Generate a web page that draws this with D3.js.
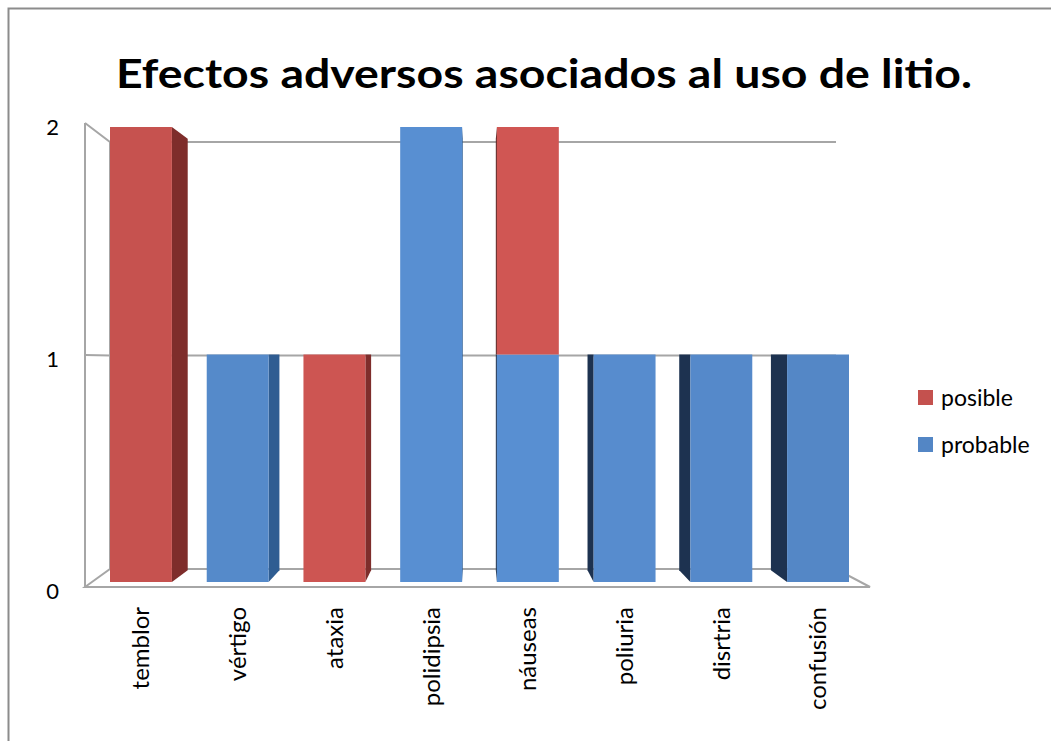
<!DOCTYPE html>
<html>
<head>
<meta charset="utf-8">
<script src="https://cdn.jsdelivr.net/npm/d3@7"></script>
<style>
	body { margin: 0; background: #fff; }
	text { font-family: Lato, "Open Sans", sans-serif; fill: #000; }
</style>
</head>
<body>
<svg id="chart" width="1051" height="741"></svg>
<script>
var categories = ['temblor', 'vértigo', 'ataxia', 'polidipsia', 'náuseas', 'poliuria', 'disrtria', 'confusión'];
var posible = [2, 0, 1, 0, 1, 0, 0, 0];
var probable = [0, 1, 0, 2, 1, 1, 1, 1];
var yTicks = [0, 1, 2];
var seriesNames = ['posible', 'probable'];

var colors = {
	posible : {front : '#c4514e', right : '#7e2d2b', left : '#5a1f1e'},
	probable : {front : '#5386c5', right : '#2f5d92', left : '#1d3250'}
};

var svg = d3.select('#chart');

// chart frame
svg.append('rect')
	.attr('x', 8.5).attr('y', 8.5)
	.attr('width', 1060).attr('height', 760)
	.attr('fill', 'none')
	.attr('stroke', '#8c8c8c')
	.attr('stroke-width', 2);

svg.append('text')
	.attr('x', 544)
	.attr('y', 88)
	.attr('text-anchor', 'middle')
	.attr('textLength', 856)
	.attr('lengthAdjust', 'spacingAndGlyphs')
	.style('font-size', '41px')
	.style('font-weight', 'bold')
	.text('Efectos adversos asociados al uso de litio.');

var rows = categories.map(function(c, i){
	return {cat : c, posible : posible[i], probable : probable[i]};
});

var stacked = d3.stack().keys(['probable', 'posible'])(rows);

var x = d3.scaleBand()
		.domain(categories)
		.range([110, 849])
		.paddingInner(0.36)
		.paddingOuter(0);

// front face of bars, front edge of walls, back wall
var yBar = d3.scaleLinear().domain([0, 2]).range([582, 127]);
var yFront = d3.scaleLinear().domain([0, 2]).range([587, 123]);
var yBack = d3.scaleLinear().domain([0, 2]).range([569, 142]);

var wall = {fl : 85, fr : 870, bl : 110, br : 836};
var eye = {x : 476, y : 355}, depth = 0.052;

function backX(px){ return px + depth * (eye.x - px); }
function backY(py){ return py + depth * (eye.y - py); }

//walls and gridlines
var grid = svg.append('g')
	.attr('fill', 'none')
	.attr('stroke', '#a6a6a6')
	.attr('stroke-width', 2);

grid.append('path')
	.attr('d', `M${wall.fl},${yFront(0)}L${wall.bl},${yBack(0)}L${wall.br},${yBack(0)}L${wall.fr},${yFront(0)}Z`);

grid.append('path')
	.attr('d', `M${wall.fl},${yFront(0)}L${wall.fl},${yFront(2)}M${wall.bl},${yBack(0)}L${wall.bl},${yBack(2)}`);

grid.selectAll('.gridline')
	.data(yTicks.filter(function(d){ return d > 0; }))
	.enter()
	.append('path')
	.attr('class', 'gridline')
	.attr('d', function(d){
		return `M${wall.fl},${yFront(d)}L${wall.bl},${yBack(d)}L${wall.br},${yBack(d)}`;
	});

svg.append('g')
	.selectAll('text')
	.data(yTicks)
	.enter()
	.append('text')
	.attr('x', 59)
	.attr('y', function(d){ return yFront(d) + 4; })
	.attr('dy', '0.35em')
	.attr('text-anchor', 'end')
	.style('font-size', '22px')
	.text(function(d){ return d; });

//bars
var segments = [];
stacked.forEach(function(layer){
	layer.forEach(function(d){
		if(d[1] > d[0]) segments.push({key : layer.key, cat : d.data.cat, y0 : d[0], y1 : d[1]});
	});
});

var bw = x.bandwidth();

var sides = svg.append('g').attr('class', 'sides');
sides.selectAll('polygon')
	.data(segments)
	.enter()
	.append('polygon')
	.attr('fill', function(d){
		var leftOfEye = x(d.cat) + bw / 2 < eye.x;
		return leftOfEye ? colors[d.key].right : colors[d.key].left;
	})
	.attr('points', function(d){
		var leftOfEye = x(d.cat) + bw / 2 < eye.x;
		var xe = leftOfEye ? x(d.cat) + bw : x(d.cat);
		var t = yBar(d.y1), b = yBar(d.y0);
		return [[xe, t], [xe, b], [backX(xe), backY(b)], [backX(xe), backY(t)]].join(' ');
	});

var fronts = svg.append('g').attr('class', 'fronts');
fronts.selectAll('rect')
	.data(segments)
	.enter()
	.append('rect')
	.attr('x', function(d){ return x(d.cat); })
	.attr('y', function(d){ return yBar(d.y1); })
	.attr('width', bw)
	.attr('height', function(d){ return yBar(d.y0) - yBar(d.y1); })
	.attr('fill', function(d){
		var dist = Math.abs(x(d.cat) + bw / 2 - eye.x) / 380;
		return d3.color(colors[d.key].front).brighter(0.2 * Math.max(0, 1 - dist)).formatHex();
	});

//category labels
svg.append('g')
	.selectAll('text')
	.data(categories)
	.enter()
	.append('text')
	.attr('transform', function(d){
		return `translate(${x(d) + bw / 2},607) rotate(-90)`;
	})
	.attr('dy', '0.35em')
	.attr('text-anchor', 'end')
	.style('font-size', '24px')
	.text(function(d){ return d; });

//legend
var legend = svg.append('g')
	.selectAll('g')
	.data(seriesNames)
	.enter()
	.append('g')
	.attr('transform', function(d, i){ return `translate(918,${390 + i * 47})`; });

legend.append('rect')
	.attr('width', 15)
	.attr('height', 15)
	.attr('fill', function(d){ return colors[d].front; });

legend.append('text')
	.attr('x', 23)
	.attr('y', 8)
	.attr('dy', '0.35em')
	.style('font-size', '23px')
	.text(function(d){ return d; });
</script>
</body>
</html>
